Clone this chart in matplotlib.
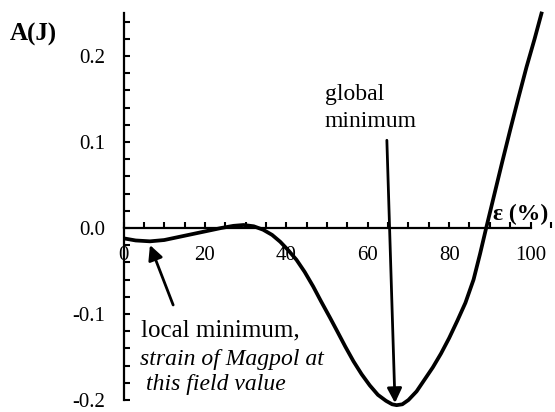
import matplotlib
matplotlib.use("Agg")
import matplotlib.pyplot as plt
from matplotlib.ticker import MultipleLocator, FixedLocator

# Data
strain = [0, 3, 6.5, 10, 15, 20, 24, 27, 29.5, 32, 34.3, 36.5, 38.5, 40.5,
          42.5, 44.5, 46.6, 48.5, 50.7, 52.5, 54.5, 56.5, 58.5, 60.5, 62.5,
          64.5, 66, 67.1, 68.5, 70, 72, 74, 76, 78, 80, 82, 84, 86, 87.6, 89.1,
          91, 93, 95, 97, 99, 101, 102.8]
energy = [-0.012, -0.0145, -0.0155, -0.014, -0.009, -0.004, 0.0, 0.0025,
          0.0035, 0.002, -0.002, -0.008, -0.016, -0.026, -0.037, -0.051,
          -0.068, -0.085, -0.104, -0.12, -0.138, -0.155, -0.17, -0.183,
          -0.194, -0.201, -0.205, -0.206, -0.205, -0.2, -0.19, -0.176,
          -0.162, -0.146, -0.128, -0.108, -0.087, -0.06, -0.03, 0.0, 0.037,
          0.076, 0.114, 0.151, 0.187, 0.22, 0.2515]

x_ticks = [0, 20, 40, 60, 80, 100]
x_tick_labels = ["0", "20", "40", "60", "80", "100"]
y_ticks = [-0.2, -0.1, 0.0, 0.1, 0.2]
y_tick_labels = ["-0.2", "-0.1", "0.0", "0.1", "0.2"]

plt.rcParams['font.family'] = ['Liberation Serif', 'DejaVu Serif']

fig = plt.figure(figsize=(5.55, 4.12), dpi=100)
ax = fig.add_axes([123.5 / 555, 12 / 412, 427.4 / 555, 387 / 412])
ax.set_xlim(0, 105)
ax.set_ylim(-0.2, 0.25)

ax.plot(strain, energy, color='black', lw=2.7, clip_on=False,
        solid_joinstyle='round', solid_capstyle='butt')

for s in ['top', 'right']:
    ax.spines[s].set_visible(False)
ax.spines['bottom'].set_position(('data', 0))
ax.spines['bottom'].set_bounds(0, 100)
ax.spines['left'].set_bounds(-0.2, 0.25)
for s in ['bottom', 'left']:
    ax.spines[s].set_linewidth(1.6)

ax.xaxis.set_major_locator(FixedLocator(x_ticks))
ax.set_xticklabels(x_tick_labels)
ax.xaxis.set_minor_locator(MultipleLocator(5))
ax.yaxis.set_major_locator(FixedLocator(y_ticks))
ax.set_yticklabels(y_tick_labels)
ax.yaxis.set_minor_locator(FixedLocator([v / 100 for v in range(-20, 26, 2)]))

ax.tick_params(axis='x', which='both', direction='in', length=4.5, width=1.5,
               labelsize=15, pad=13)
ax.tick_params(axis='y', which='both', direction='in', length=4.5, width=1.5,
               labelsize=15, pad=13)

# Axis titles
fig.text(10 / 555, 1 - 41 / 412, "A(J)", fontsize=18, fontweight='bold',
         ha='left', va='baseline')
ax.text(90.8, 0.0093, "ε (%)", fontsize=17, fontweight='bold',
        ha='left', va='baseline')

# Annotations
ax.text(49.5, 0.1488, "global", fontsize=17, ha='left', va='baseline')
ax.text(49.5, 0.1178, "minimum", fontsize=17, ha='left', va='baseline')
ax.annotate("", xy=(66.7, -0.2035), xytext=(64.7, 0.102),
            annotation_clip=False,
            arrowprops=dict(arrowstyle='-|>', mutation_scale=22, lw=2.0,
                            color='black', shrinkA=0, shrinkB=0))

ax.text(4.3, -0.1256, "local minimum,", fontsize=18, ha='left', va='baseline')
ax.text(4.1, -0.1593, "strain of Magpol at", fontsize=17, style='italic',
        ha='left', va='baseline')
ax.text(5.6, -0.1884, "this field value", fontsize=17, style='italic',
        ha='left', va='baseline')
ax.annotate("", xy=(6.5, -0.0198), xytext=(12.2, -0.0895),
            annotation_clip=False,
            arrowprops=dict(arrowstyle='-|>', mutation_scale=22, lw=2.0,
                            color='black', shrinkA=0, shrinkB=0))

fig.savefig("out.png", dpi=100)
